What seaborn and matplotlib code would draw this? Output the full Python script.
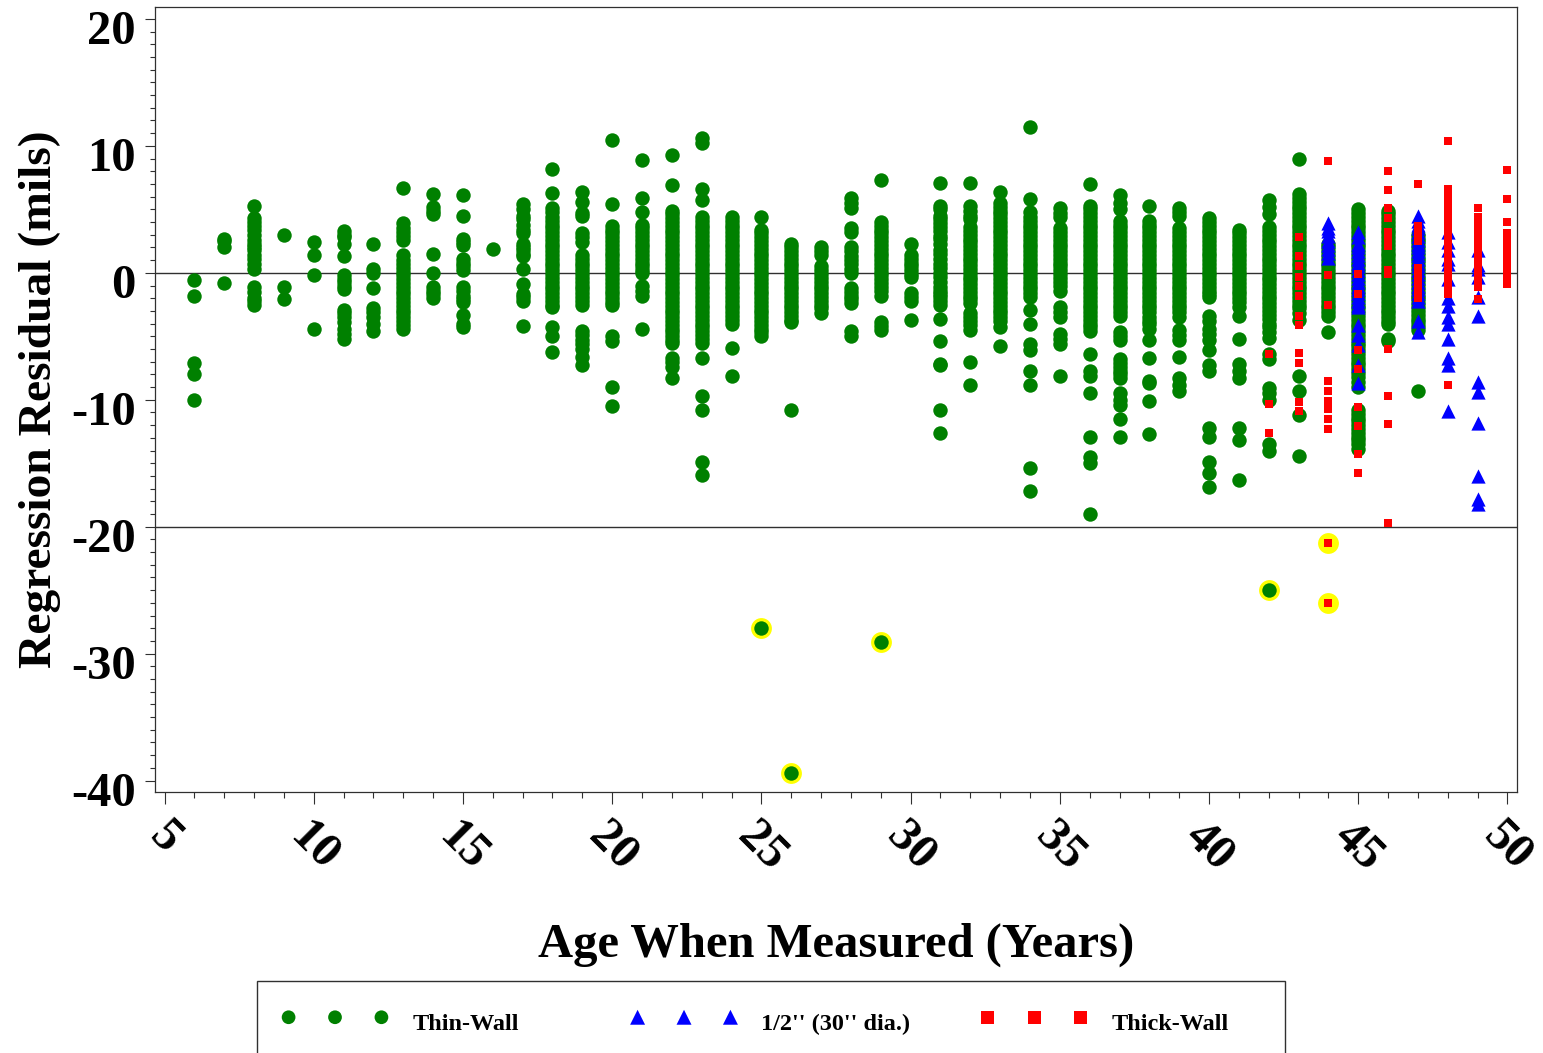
import matplotlib
matplotlib.use("Agg")
import matplotlib.pyplot as plt
import matplotlib.patches as mpatches
from matplotlib.ticker import MultipleLocator
from matplotlib.transforms import ScaledTranslation
import pandas as pd
import seaborn as sns

thin_wall = {
    6: [-0.6, -1.8, -7.1, -8.0, -10.0],
    7: [2.7, 2.5, 2.0, -0.8],
    8: [5.3, 4.3, 4.0, 3.7, 3.4, 3.0, 2.6, 2.3, 2.0, 1.8, 1.4, 1.1, 0.7, 0.3, -1.1, -1.5, -2.0, -2.2, -2.5],
    9: [3.0, -1.1, -2.1],
    10: [2.4, 1.4, -0.2, -4.4],
    11: [3.3, 3.0, 2.8, 2.3, 1.3, -0.2, -0.5, -0.7, -1.0, -1.3, -2.9, -3.2, -3.5, -3.9, -4.4, -4.8, -5.2],
    12: [2.3, 0.3, -0.05, -1.2, -2.8, -3.1, -3.5, -4.0, -4.6],
    13: [6.7, 3.9, 3.5, 3.2, 2.9, 2.6, 1.4, 1.0, 0.7, 0.4, 0.1, -0.2, -0.5, -0.8, -1.1, -1.4, -1.7, -2.0, -2.3, -2.6, -2.9, -3.2, -3.5, -3.8, -4.1, -4.4],
    14: [6.2, 5.2, 4.9, 4.6, 1.5, 0.0, -1.1, -1.4, -1.7, -2.0],
    15: [6.1, 4.5, 2.7, 2.4, 2.2, 1.1, 0.8, 0.5, 0.2, -1.1, -1.4, -1.8, -2.1, -2.3, -3.3, -4.0, -4.3],
    16: [1.9],
    17: [5.4, 5.0, 4.5, 4.2, 3.8, 3.4, 3.1, 2.3, 2.0, 1.8, 1.5, 1.3, 0.3, -0.9, -1.7, -1.9, -2.2, -4.2],
    18: [8.2, 6.3, 5.1, 4.8, 4.4, 4.1, 3.8, 3.5, 3.2, 2.9, 2.6, 2.3, 2.0, 1.7, 1.4, 1.1, 0.8, 0.5, 0.2, -0.1, -0.4, -0.7, -1.0, -1.3, -1.6, -1.9, -2.2, -2.5, -2.7, -4.3, -5.0, -6.2],
    19: [6.4, 5.6, 4.7, 4.5, 3.1, 2.8, 2.4, 1.4, 1.1, 0.8, 0.5, 0.2, -0.1, -0.4, -0.7, -1.0, -1.3, -1.6, -1.9, -2.2, -2.5, -4.6, -4.9, -5.3, -5.6, -6.0, -6.6, -7.3],
    20: [10.5, 5.4, 3.7, 3.4, 3.1, 2.8, 2.5, 2.2, 1.9, 1.6, 1.3, 1.0, 0.7, 0.4, 0.1, -0.2, -0.5, -0.8, -1.1, -1.4, -1.7, -2.0, -2.3, -2.5, -5.0, -5.4, -9.0, -10.5],
    21: [8.9, 5.9, 4.8, 3.8, 3.5, 3.2, 2.9, 2.6, 2.3, 2.0, 1.7, 1.4, 1.1, 0.8, 0.5, 0.2, 0.0, -1.0, -1.4, -1.8, -4.4],
    22: [9.3, 6.9, 4.9, 4.6, 4.3, 4.0, 3.7, 3.4, 3.1, 2.8, 2.5, 2.2, 1.9, 1.6, 1.3, 1.0, 0.7, 0.4, 0.1, -0.2, -0.5, -0.8, -1.1, -1.4, -1.7, -2.0, -2.3, -2.6, -2.9, -3.2, -3.5, -3.8, -4.1, -4.4, -4.7, -5.0, -5.3, -5.5, -6.7, -7.0, -7.4, -8.3],
    23: [10.6, 10.2, 6.6, 5.7, 4.4, 4.1, 3.8, 3.5, 3.2, 2.9, 2.6, 2.3, 2.0, 1.7, 1.4, 1.1, 0.8, 0.5, 0.2, -0.1, -0.4, -0.7, -1.0, -1.3, -1.6, -1.9, -2.2, -2.5, -2.8, -3.1, -3.4, -3.7, -4.0, -4.3, -4.6, -4.9, -5.2, -5.5, -6.7, -9.7, -10.8, -14.9, -15.9],
    24: [4.4, 4.1, 3.8, 3.5, 3.2, 2.9, 2.6, 2.3, 2.0, 1.7, 1.4, 1.1, 0.8, 0.5, 0.2, -0.1, -0.4, -0.7, -1.0, -1.3, -1.6, -1.9, -2.2, -2.5, -2.8, -3.1, -3.4, -3.7, -4.0, -5.9, -8.1],
    25: [4.4, 3.4, 3.1, 2.8, 2.5, 2.2, 1.9, 1.6, 1.3, 1.0, 0.7, 0.4, 0.1, -0.2, -0.5, -0.8, -1.1, -1.4, -1.7, -2.0, -2.3, -2.6, -2.9, -3.2, -3.5, -3.8, -4.1, -4.4, -4.7, -5.0],
    26: [2.3, 2.0, 1.7, 1.4, 1.1, 0.8, 0.5, 0.2, -0.1, -0.4, -0.7, -1.0, -1.3, -1.6, -1.9, -2.2, -2.5, -2.8, -3.1, -3.4, -3.7, -3.9, -10.8],
    27: [2.0, 1.7, 1.4, 0.5, 0.2, -0.1, -0.4, -0.7, -1.0, -1.3, -1.6, -1.9, -2.2, -2.5, -2.8, -3.2],
    28: [5.9, 5.5, 5.1, 3.5, 3.2, 2.0, 1.7, 1.3, 1.0, 0.7, 0.3, 0.0, -1.2, -1.5, -1.8, -2.1, -2.4, -4.6, -5.0],
    29: [7.3, 4.0, 3.7, 3.4, 3.1, 2.8, 2.5, 2.2, 1.9, 1.6, 1.3, 1.0, 0.7, 0.4, 0.1, -0.2, -0.5, -0.8, -1.1, -1.4, -1.8, -3.9, -4.2, -4.5],
    30: [2.3, 1.4, 1.1, 0.8, 0.5, 0.2, -0.1, -0.3, -1.6, -1.9, -2.2, -3.7],
    31: [7.1, 5.3, 5.0, 4.5, 4.2, 3.9, 3.6, 3.3, 2.9, 2.7, 2.3, 1.8, 1.5, 1.1, 0.7, 0.4, 0.0, -0.3, -0.7, -1.1, -1.4, -1.7, -1.9, -2.2, -2.5, -3.6, -5.4, -7.2, -7.3, -10.8, -12.6],
    32: [7.1, 5.3, 4.9, 4.5, 4.2, 3.6, 3.3, 3.0, 2.7, 2.4, 2.1, 1.8, 1.5, 1.2, 0.9, 0.6, 0.3, 0.0, -0.3, -0.6, -0.9, -1.2, -1.5, -1.8, -2.1, -2.4, -3.2, -3.5, -3.8, -4.1, -4.5, -7.0, -8.8],
    33: [6.4, 5.5, 5.2, 4.9, 4.6, 4.3, 4.0, 3.7, 3.4, 3.1, 2.8, 2.5, 2.2, 1.9, 1.6, 1.3, 1.0, 0.7, 0.4, 0.1, -0.2, -0.5, -0.8, -1.1, -1.4, -1.7, -2.0, -2.3, -2.6, -2.9, -3.2, -3.5, -3.8, -4.3, -5.8],
    34: [11.5, 5.8, 4.8, 4.4, 4.1, 3.8, 3.5, 3.2, 2.9, 2.6, 2.3, 2.0, 1.7, 1.4, 1.1, 0.8, 0.5, 0.2, -0.1, -0.4, -0.7, -1.0, -1.3, -1.6, -1.9, -2.9, -4.0, -5.6, -6.1, -7.7, -8.8, -15.4, -17.2],
    35: [5.1, 4.7, 4.4, 3.5, 3.2, 2.9, 2.6, 2.3, 2.0, 1.7, 1.4, 1.1, 0.8, 0.5, 0.2, -0.1, -0.4, -0.7, -1.0, -1.4, -2.7, -3.1, -3.5, -4.8, -5.2, -5.6, -8.1],
    36: [7.0, 5.3, 5.0, 4.7, 4.4, 4.1, 3.8, 3.5, 3.2, 2.9, 2.6, 2.3, 2.0, 1.7, 1.4, 1.1, 0.8, 0.5, 0.2, -0.1, -0.4, -0.7, -1.0, -1.3, -1.6, -1.9, -2.2, -2.5, -2.8, -3.1, -3.4, -3.7, -4.0, -4.3, -4.6, -6.4, -7.7, -8.1, -9.5, -12.9, -14.5, -15.0, -19.0],
    37: [6.1, 5.5, 5.0, 4.1, 3.8, 3.5, 3.2, 2.9, 2.6, 2.3, 2.0, 1.7, 1.4, 1.1, 0.8, 0.5, 0.2, -0.1, -0.4, -0.7, -1.0, -1.3, -1.6, -1.9, -2.2, -2.5, -2.8, -3.1, -3.4, -4.7, -5.0, -5.3, -6.8, -7.1, -7.4, -7.7, -8.0, -8.3, -9.5, -10.0, -10.4, -11.5, -12.9],
    38: [5.3, 4.1, 3.8, 3.5, 3.2, 2.9, 2.6, 2.3, 2.0, 1.7, 1.4, 1.1, 0.8, 0.5, 0.2, -0.1, -0.4, -0.7, -1.0, -1.3, -1.6, -1.9, -2.2, -2.5, -2.8, -3.1, -3.5, -3.8, -4.0, -4.4, -5.3, -6.7, -8.5, -8.7, -10.1, -12.7],
    39: [5.1, 4.8, 4.5, 3.5, 3.2, 2.9, 2.6, 2.3, 2.0, 1.7, 1.4, 1.1, 0.8, 0.5, 0.2, -0.1, -0.4, -0.7, -1.0, -1.3, -1.6, -1.9, -2.2, -2.5, -2.8, -3.1, -3.5, -4.5, -4.9, -5.3, -6.6, -8.3, -8.8, -9.3],
    40: [4.3, 4.0, 3.7, 3.4, 3.1, 2.8, 2.5, 2.2, 1.9, 1.6, 1.3, 1.0, 0.7, 0.4, 0.1, -0.2, -0.5, -0.8, -1.1, -1.4, -1.7, -1.9, -3.4, -3.8, -4.4, -4.8, -5.3, -6.1, -7.3, -7.7, -12.2, -12.9, -14.9, -15.8, -16.9],
    41: [3.4, 3.1, 2.8, 2.5, 2.2, 1.9, 1.6, 1.3, 1.0, 0.7, 0.4, 0.1, -0.2, -0.5, -0.8, -1.1, -1.4, -1.7, -2.0, -2.3, -2.7, -3.4, -5.2, -7.2, -7.7, -8.3, -12.2, -13.2, -16.3],
    42: [5.7, 5.2, 4.6, 3.6, 3.3, 3.0, 2.7, 2.4, 2.1, 1.8, 1.5, 1.2, 0.9, 0.6, 0.3, 0.0, -0.3, -0.6, -0.9, -1.2, -1.5, -1.8, -2.1, -2.4, -2.7, -3.0, -3.3, -3.6, -4.0, -4.3, -4.7, -5.1, -6.4, -6.8, -9.1, -9.5, -10.0, -13.5, -14.0],
    43: [9.0, 6.2, 5.9, 5.6, 5.3, 5.0, 4.7, 4.4, 4.1, 3.8, 3.5, 3.2, 2.9, 2.6, 2.3, 2.0, 1.7, 1.4, 1.1, 0.8, 0.5, 0.2, -0.1, -0.4, -0.7, -1.0, -1.3, -1.6, -1.9, -2.2, -2.5, -2.8, -3.2, -3.7, -8.1, -9.3, -11.2, -14.4],
    44: [2.3, 2.0, 1.7, 1.4, 1.1, 0.8, 0.5, 0.2, -0.1, -0.4, -0.7, -1.0, -1.3, -1.6, -1.9, -2.2, -2.5, -2.8, -3.1, -3.4, -4.7],
    45: [5.0, 4.7, 4.4, 4.1, 3.8, 3.5, 3.2, 2.9, 2.6, 2.3, 2.0, 1.7, 1.4, 1.1, 0.8, 0.5, 0.2, -0.1, -0.4, -0.7, -1.0, -1.3, -1.6, -1.9, -2.2, -2.5, -2.8, -3.1, -3.4, -3.7, -4.0, -4.3, -4.6, -4.9, -5.2, -5.5, -5.8, -6.1, -6.4, -6.7, -7.0, -7.3, -7.6, -7.9, -8.2, -8.6, -9.0, -10.8, -11.1, -11.4, -11.7, -12.0, -12.3, -12.6, -12.9, -13.2, -13.5, -13.9],
    46: [4.9, 4.6, 4.3, 4.0, 3.7, 3.4, 3.1, 2.8, 2.5, 2.2, 1.9, 1.6, 1.3, 1.0, 0.7, 0.4, 0.1, -0.2, -0.5, -0.8, -1.1, -1.4, -1.7, -2.0, -2.3, -2.6, -2.9, -3.2, -3.5, -3.8, -4.0, -5.2, -5.4],
    47: [3.0, 2.7, 2.4, 2.1, 1.8, 1.5, 1.2, 0.9, 0.6, 0.3, 0.0, -0.3, -0.6, -0.9, -1.2, -1.5, -1.8, -2.1, -2.4, -2.7, -3.0, -3.3, -3.6, -3.9, -4.2, -4.5, -9.3],
}

half_inch = {
    44: [3.9, 3.5, 3.3, 2.9, 2.5, 2.2, 1.9, 1.6, 1.2],
    45: [3.2, 2.8, 2.3, 2.0, 1.7, 1.4, 1.1, 0.8, 0.5, 0.2, -0.1, -0.4, -0.7, -1.0, -1.3, -1.6, -1.9, -2.2, -2.5, -2.7, -4.1, -4.9, -5.7, -7.3, -8.7],
    47: [4.5, 4.1, 3.8, 3.5, 3.2, 2.9, 2.6, 2.3, 2.0, 1.7, 1.4, 1.1, 0.8, 0.5, 0.2, -0.1, -0.4, -0.7, -1.0, -1.3, -1.6, -1.9, -2.2, -3.8, -4.7],
    48: [3.2, 2.4, 1.8, 1.1, 0.7, -0.5, -2.0, -2.6, -3.5, -4.0, -5.2, -6.7, -7.3, -10.9],
    49: [1.8, 0.6, 0.3, -0.3, -1.9, -3.4, -8.6, -9.4, -11.8, -16.0, -17.8, -18.2],
}

thick_wall = {
    42: [-6.4, -10.3, -12.6],
    43: [2.8, 1.3, 0.5, -0.3, -1.0, -1.8, -3.4, -4.1, -6.3, -7.1, -10.2, -10.9],
    44: [8.8, -0.2, -2.5, -8.5, -9.3, -10.1, -10.7, -11.5, -12.3],
    45: [-0.1, -1.7, -6.1, -7.6, -10.6, -12.1, -14.3, -15.8],
    46: [8.0, 6.5, 5.1, 4.3, 3.2, 2.9, 2.7, 2.1, 0.2, -0.1, -6.0, -9.7, -11.9, -19.7],
    47: [7.0, 3.7, 3.4, 3.1, 2.8, 2.5, 0.4, 0.1, -0.2, -0.5, -0.8, -1.1, -1.4, -1.7, -2.0],
    48: [10.4, 6.6, 6.2, 5.7, 5.3, 4.9, 4.5, 4.1, 3.7, 3.3, 2.9, 2.5, 2.1, 1.7, 1.3, 0.9, 0.5, 0.1, -0.3, -0.7, -1.1, -1.4, -1.7, -8.8],
    49: [5.1, 4.4, 4.0, 3.6, 3.2, 2.8, 2.4, 2.0, 1.6, 1.2, 0.8, 0.4, 0.0, -0.3, -0.6, -1.1, -2.1],
    50: [8.1, 5.8, 4.0, 3.1, 2.7, 2.3, 1.9, 1.5, 1.1, 0.7, 0.3, -0.1, -0.5, -0.9],
}

flag_thin_age = [25, 26, 29, 42]
flag_thin_res = [-28.0, -39.4, -29.05, -25.0]
flag_thick_age = [44, 44]
flag_thick_res = [-21.25, -26.05]

x_ticks = [5, 10, 15, 20, 25, 30, 35, 40, 45, 50]
y_ticks = [-40, -30, -20, -10, 0, 10, 20]
reference_lines = [0, -20]
x_title = "Age When Measured (Years)"
y_title = "Regression Residual (mils)"
series_names = ["Thin-Wall", "1/2'' (30'' dia.)", "Thick-Wall"]


def frame(table):
    rows = [(age, r) for age, vals in table.items() for r in vals]
    return pd.DataFrame(rows, columns=["age", "residual"])


GREEN, BLUE, RED = "#008000", "#0000ff", "#ff0000"
W, H = 1543, 1053
sns.set_theme(style="white")
plt.rcParams["font.family"] = ["Liberation Serif", "DejaVu Serif"]
plt.rcParams["font.weight"] = "bold"
plt.rcParams["axes.unicode_minus"] = False

fig = plt.figure(figsize=(W / 100, H / 100), dpi=100, facecolor="white")
L, R, T, B = 155, 1517, 7, 792
ax = fig.add_axes([L / W, 1 - B / H, (R - L) / W, (B - T) / H])

for v in reference_lines:
    ax.axhline(v, color="#303030", lw=1.0, zorder=1)

sns.scatterplot(x=flag_thin_age + flag_thick_age, y=flag_thin_res + flag_thick_res,
                color="#ffff00", marker="o", s=225, linewidth=0, ax=ax, zorder=2)
df_thin = pd.concat([frame(thin_wall), pd.DataFrame({"age": flag_thin_age, "residual": flag_thin_res})])
df_thick = pd.concat([frame(thick_wall), pd.DataFrame({"age": flag_thick_age, "residual": flag_thick_res})])
sns.scatterplot(data=df_thin, x="age", y="residual", color=GREEN, marker="o", s=108,
                linewidth=0, ax=ax, zorder=3, label=series_names[0])
sns.scatterplot(data=frame(half_inch), x="age", y="residual", color=BLUE, marker="^", s=105,
                linewidth=0, ax=ax, zorder=4, label=series_names[1])
sns.scatterplot(data=df_thick, x="age", y="residual", color=RED, marker="s", s=27,
                linewidth=0, ax=ax, zorder=5, label=series_names[2])

ax.set_xlim(4.68, 50.32)
ax.set_ylim(-40.9, 20.94)
ax.set_xticks(x_ticks)
ax.set_yticks(y_ticks)
ax.xaxis.set_minor_locator(MultipleLocator(1))
ax.yaxis.set_minor_locator(MultipleLocator(1))
ax.tick_params(axis="x", which="major", length=8.5, width=0.8, color="#303030", pad=7, bottom=True)
ax.tick_params(axis="x", which="minor", length=4.3, width=0.8, color="#303030", bottom=True)
ax.tick_params(axis="y", which="major", length=7, width=0.8, color="#303030", pad=7, left=True)
ax.tick_params(axis="y", which="minor", length=3.6, width=0.8, color="#303030", left=True)
for lab in ax.get_xticklabels():
    lab.set_rotation(-45)
    lab.set_fontsize(35)
    lab.set_fontweight("bold")
    lab.set_color("black")
    lab.set_ha("center")
shift = ScaledTranslation(0, -8 / 100, fig.dpi_scale_trans)
for lab in ax.get_yticklabels():
    lab.set_fontsize(35)
    lab.set_fontweight("bold")
    lab.set_color("black")
    lab.set_transform(lab.get_transform() + shift)
for s in ax.spines.values():
    s.set_visible(True)
    s.set_color("#303030")
    s.set_linewidth(0.9)

ax.set_xlabel(x_title, fontsize=35, fontweight="bold", color="black")
ax.set_ylabel(y_title, fontsize=34.2, fontweight="bold", color="black")
ax.xaxis.set_label_coords(0.5, -0.167)
ax.yaxis.set_label_coords(-0.069, 0.5)

handles, labels = ax.get_legend_handles_labels()
if ax.get_legend() is not None:
    ax.get_legend().remove()

fig.add_artist(mpatches.Rectangle((257 / W, -0.01), (1285 - 257) / W, 1 - 981 / H + 0.01,
                                  transform=fig.transFigure, facecolor="white",
                                  edgecolor="#303030", linewidth=1.0))
legend_x = [281.3, 630.3, 980.3]
legend_scale = [0.95, 1.05, 1.8]
for h, l, x0, ms in zip(handles, labels, legend_x, legend_scale):
    leg = fig.legend([h], [l], loc="upper left", bbox_to_anchor=(x0 / W, 1 - 1013 / H),
                     bbox_transform=fig.transFigure, frameon=False, borderpad=0, borderaxespad=0,
                     scatterpoints=3, scatteryoffsets=[0.75], handlelength=4.42, handletextpad=0.97,
                     markerscale=ms, fontsize=17.5, labelcolor="black")
    for t in leg.get_texts():
        t.set_fontweight("bold")

fig.savefig("out.png", dpi=100, facecolor="white")
